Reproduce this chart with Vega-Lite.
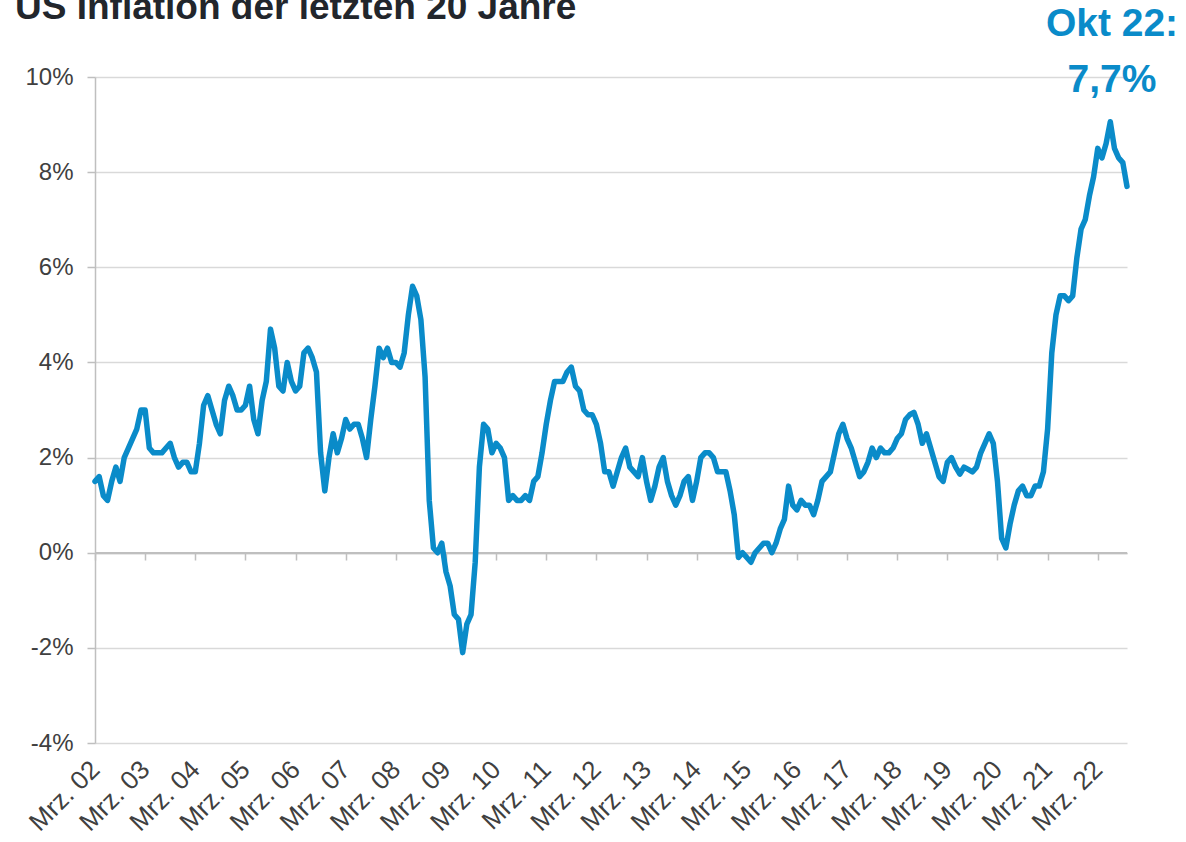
{
  "$schema": "https://vega.github.io/schema/vega-lite/v6.json",
  "autosize": "none",
  "width": 1032,
  "height": 666,
  "padding": {"left": 95, "top": 77, "right": 59, "bottom": 99},
  "background": "white",
  "config": {
    "font": "Liberation Sans",
    "view": {"stroke": null},
    "axis": {"labelFont": "Liberation Sans", "labelFontSize": 24, "labelColor": "#404040"}
  },
  "title": {
    "text": "US Inflation der letzten 20 Jahre",
    "fontSize": 37,
    "fontWeight": "bold",
    "color": "#22262c",
    "anchor": "start",
    "frame": "group",
    "baseline": "alphabetic",
    "dx": -80,
    "offset": -51
  },
  "data": {
    "values": [
      {"m":"2002-03","v":1.5},{"m":"2002-04","v":1.6},{"m":"2002-05","v":1.2},{"m":"2002-06","v":1.1},{"m":"2002-07","v":1.5},{"m":"2002-08","v":1.8},{"m":"2002-09","v":1.5},{"m":"2002-10","v":2.0},{"m":"2002-11","v":2.2},{"m":"2002-12","v":2.4},
      {"m":"2003-01","v":2.6},{"m":"2003-02","v":3.0},{"m":"2003-03","v":3.0},{"m":"2003-04","v":2.2},{"m":"2003-05","v":2.1},{"m":"2003-06","v":2.1},{"m":"2003-07","v":2.1},{"m":"2003-08","v":2.2},{"m":"2003-09","v":2.3},{"m":"2003-10","v":2.0},{"m":"2003-11","v":1.8},{"m":"2003-12","v":1.9},
      {"m":"2004-01","v":1.9},{"m":"2004-02","v":1.7},{"m":"2004-03","v":1.7},{"m":"2004-04","v":2.3},{"m":"2004-05","v":3.1},{"m":"2004-06","v":3.3},{"m":"2004-07","v":3.0},{"m":"2004-08","v":2.7},{"m":"2004-09","v":2.5},{"m":"2004-10","v":3.2},{"m":"2004-11","v":3.5},{"m":"2004-12","v":3.3},
      {"m":"2005-01","v":3.0},{"m":"2005-02","v":3.0},{"m":"2005-03","v":3.1},{"m":"2005-04","v":3.5},{"m":"2005-05","v":2.8},{"m":"2005-06","v":2.5},{"m":"2005-07","v":3.2},{"m":"2005-08","v":3.6},{"m":"2005-09","v":4.7},{"m":"2005-10","v":4.3},{"m":"2005-11","v":3.5},{"m":"2005-12","v":3.4},
      {"m":"2006-01","v":4.0},{"m":"2006-02","v":3.6},{"m":"2006-03","v":3.4},{"m":"2006-04","v":3.5},{"m":"2006-05","v":4.2},{"m":"2006-06","v":4.3},{"m":"2006-07","v":4.1},{"m":"2006-08","v":3.8},{"m":"2006-09","v":2.1},{"m":"2006-10","v":1.3},{"m":"2006-11","v":2.0},{"m":"2006-12","v":2.5},
      {"m":"2007-01","v":2.1},{"m":"2007-02","v":2.4},{"m":"2007-03","v":2.8},{"m":"2007-04","v":2.6},{"m":"2007-05","v":2.7},{"m":"2007-06","v":2.7},{"m":"2007-07","v":2.4},{"m":"2007-08","v":2.0},{"m":"2007-09","v":2.8},{"m":"2007-10","v":3.5},{"m":"2007-11","v":4.3},{"m":"2007-12","v":4.1},
      {"m":"2008-01","v":4.3},{"m":"2008-02","v":4.0},{"m":"2008-03","v":4.0},{"m":"2008-04","v":3.9},{"m":"2008-05","v":4.2},{"m":"2008-06","v":5.0},{"m":"2008-07","v":5.6},{"m":"2008-08","v":5.4},{"m":"2008-09","v":4.9},{"m":"2008-10","v":3.7},{"m":"2008-11","v":1.1},{"m":"2008-12","v":0.1},
      {"m":"2009-01","v":0.0},{"m":"2009-02","v":0.2},{"m":"2009-03","v":-0.4},{"m":"2009-04","v":-0.7},{"m":"2009-05","v":-1.3},{"m":"2009-06","v":-1.4},{"m":"2009-07","v":-2.1},{"m":"2009-08","v":-1.5},{"m":"2009-09","v":-1.3},{"m":"2009-10","v":-0.2},{"m":"2009-11","v":1.8},{"m":"2009-12","v":2.7},
      {"m":"2010-01","v":2.6},{"m":"2010-02","v":2.1},{"m":"2010-03","v":2.3},{"m":"2010-04","v":2.2},{"m":"2010-05","v":2.0},{"m":"2010-06","v":1.1},{"m":"2010-07","v":1.2},{"m":"2010-08","v":1.1},{"m":"2010-09","v":1.1},{"m":"2010-10","v":1.2},{"m":"2010-11","v":1.1},{"m":"2010-12","v":1.5},
      {"m":"2011-01","v":1.6},{"m":"2011-02","v":2.1},{"m":"2011-03","v":2.7},{"m":"2011-04","v":3.2},{"m":"2011-05","v":3.6},{"m":"2011-06","v":3.6},{"m":"2011-07","v":3.6},{"m":"2011-08","v":3.8},{"m":"2011-09","v":3.9},{"m":"2011-10","v":3.5},{"m":"2011-11","v":3.4},{"m":"2011-12","v":3.0},
      {"m":"2012-01","v":2.9},{"m":"2012-02","v":2.9},{"m":"2012-03","v":2.7},{"m":"2012-04","v":2.3},{"m":"2012-05","v":1.7},{"m":"2012-06","v":1.7},{"m":"2012-07","v":1.4},{"m":"2012-08","v":1.7},{"m":"2012-09","v":2.0},{"m":"2012-10","v":2.2},{"m":"2012-11","v":1.8},{"m":"2012-12","v":1.7},
      {"m":"2013-01","v":1.6},{"m":"2013-02","v":2.0},{"m":"2013-03","v":1.5},{"m":"2013-04","v":1.1},{"m":"2013-05","v":1.4},{"m":"2013-06","v":1.8},{"m":"2013-07","v":2.0},{"m":"2013-08","v":1.5},{"m":"2013-09","v":1.2},{"m":"2013-10","v":1.0},{"m":"2013-11","v":1.2},{"m":"2013-12","v":1.5},
      {"m":"2014-01","v":1.6},{"m":"2014-02","v":1.1},{"m":"2014-03","v":1.5},{"m":"2014-04","v":2.0},{"m":"2014-05","v":2.1},{"m":"2014-06","v":2.1},{"m":"2014-07","v":2.0},{"m":"2014-08","v":1.7},{"m":"2014-09","v":1.7},{"m":"2014-10","v":1.7},{"m":"2014-11","v":1.3},{"m":"2014-12","v":0.8},
      {"m":"2015-01","v":-0.1},{"m":"2015-02","v":0.0},{"m":"2015-03","v":-0.1},{"m":"2015-04","v":-0.2},{"m":"2015-05","v":0.0},{"m":"2015-06","v":0.1},{"m":"2015-07","v":0.2},{"m":"2015-08","v":0.2},{"m":"2015-09","v":0.0},{"m":"2015-10","v":0.2},{"m":"2015-11","v":0.5},{"m":"2015-12","v":0.7},
      {"m":"2016-01","v":1.4},{"m":"2016-02","v":1.0},{"m":"2016-03","v":0.9},{"m":"2016-04","v":1.1},{"m":"2016-05","v":1.0},{"m":"2016-06","v":1.0},{"m":"2016-07","v":0.8},{"m":"2016-08","v":1.1},{"m":"2016-09","v":1.5},{"m":"2016-10","v":1.6},{"m":"2016-11","v":1.7},{"m":"2016-12","v":2.1},
      {"m":"2017-01","v":2.5},{"m":"2017-02","v":2.7},{"m":"2017-03","v":2.4},{"m":"2017-04","v":2.2},{"m":"2017-05","v":1.9},{"m":"2017-06","v":1.6},{"m":"2017-07","v":1.7},{"m":"2017-08","v":1.9},{"m":"2017-09","v":2.2},{"m":"2017-10","v":2.0},{"m":"2017-11","v":2.2},{"m":"2017-12","v":2.1},
      {"m":"2018-01","v":2.1},{"m":"2018-02","v":2.2},{"m":"2018-03","v":2.4},{"m":"2018-04","v":2.5},{"m":"2018-05","v":2.8},{"m":"2018-06","v":2.9},{"m":"2018-07","v":2.95},{"m":"2018-08","v":2.7},{"m":"2018-09","v":2.3},{"m":"2018-10","v":2.5},{"m":"2018-11","v":2.2},{"m":"2018-12","v":1.9},
      {"m":"2019-01","v":1.6},{"m":"2019-02","v":1.5},{"m":"2019-03","v":1.9},{"m":"2019-04","v":2.0},{"m":"2019-05","v":1.8},{"m":"2019-06","v":1.65},{"m":"2019-07","v":1.8},{"m":"2019-08","v":1.75},{"m":"2019-09","v":1.7},{"m":"2019-10","v":1.8},{"m":"2019-11","v":2.1},{"m":"2019-12","v":2.3},
      {"m":"2020-01","v":2.5},{"m":"2020-02","v":2.3},{"m":"2020-03","v":1.5},{"m":"2020-04","v":0.3},{"m":"2020-05","v":0.1},{"m":"2020-06","v":0.6},{"m":"2020-07","v":1.0},{"m":"2020-08","v":1.3},{"m":"2020-09","v":1.4},{"m":"2020-10","v":1.2},{"m":"2020-11","v":1.2},{"m":"2020-12","v":1.4},
      {"m":"2021-01","v":1.4},{"m":"2021-02","v":1.7},{"m":"2021-03","v":2.6},{"m":"2021-04","v":4.2},{"m":"2021-05","v":5.0},{"m":"2021-06","v":5.4},{"m":"2021-07","v":5.4},{"m":"2021-08","v":5.3},{"m":"2021-09","v":5.4},{"m":"2021-10","v":6.2},{"m":"2021-11","v":6.8},{"m":"2021-12","v":7.0},
      {"m":"2022-01","v":7.5},{"m":"2022-02","v":7.9},{"m":"2022-03","v":8.5},{"m":"2022-04","v":8.3},{"m":"2022-05","v":8.6},{"m":"2022-06","v":9.06},{"m":"2022-07","v":8.5},{"m":"2022-08","v":8.3},{"m":"2022-09","v":8.2},{"m":"2022-10","v":7.7}
    ]
  },
  "layer": [
    {
      "mark": {"type": "line", "color": "#bfbfbf", "strokeWidth": 1.5},
      "encoding": {
        "x": {
          "field": "m", "type": "ordinal",
          "scale": {"type": "point", "padding": 0},
          "axis": {
            "orient": "bottom",
            "title": null, "labels": false, "ticks": true, "tickSize": 7, "tickColor": "#bfbfbf", "tickWidth": 1.5,
            "domain": true, "domainColor": "#bfbfbf", "domainWidth": 1.5, "grid": false, "offset": -190,
            "values": ["2002-03","2003-03","2004-03","2005-03","2006-03","2007-03","2008-03","2009-03","2010-03","2011-03","2012-03","2013-03","2014-03","2015-03","2016-03","2017-03","2018-03","2019-03","2020-03","2021-03","2022-03"]
          }
        },
        "y": {
          "datum": 0, "type": "quantitative",
          "scale": {"domain": [-4, 10], "nice": false},
          "axis": {
            "title": null, "values": [-4, -2, 0, 2, 4, 6, 8, 10],
            "labelExpr": "datum.value + '%'",
            "grid": true, "gridColor": "#d9d9d9", "gridWidth": 1.5,
            "domain": true, "domainColor": "#bfbfbf", "domainWidth": 1.5,
            "ticks": true, "tickSize": 8, "tickColor": "#bfbfbf", "tickWidth": 1.5,
            "labelPadding": 14
          }
        }
      }
    },
    {
      "mark": {"type": "line", "color": "#0a8bc9", "strokeWidth": 5.5, "strokeJoin": "round", "strokeCap": "round"},
      "encoding": {
        "x": {
          "field": "m", "type": "ordinal",
          "axis": {
            "orient": "bottom",
            "title": null, "ticks": false, "domain": false, "grid": false,
            "labelAngle": -45, "labelAlign": "right", "labelBaseline": "middle", "labelPadding": 22, "labelFontSize": 26,
            "values": ["2002-03","2003-03","2004-03","2005-03","2006-03","2007-03","2008-03","2009-03","2010-03","2011-03","2012-03","2013-03","2014-03","2015-03","2016-03","2017-03","2018-03","2019-03","2020-03","2021-03","2022-03"],
            "labelExpr": "'Mrz. ' + slice(datum.value, 2, 4)"
          }
        },
        "y": {"field": "v", "type": "quantitative"}
      }
    },
    {
      "transform": [{"filter": "datum.m == '2022-10'"}],
      "mark": {"type": "text", "color": "#0a8bc9", "fontSize": 39, "fontWeight": "bold", "align": "center", "baseline": "alphabetic", "dx": -15, "dy": -41, "lineHeight": 56, "text": ["Okt 22:", "7,7%"]},
      "encoding": {
        "x": {"field": "m", "type": "ordinal", "axis": null},
        "y": {"datum": 10, "type": "quantitative"}
      }
    }
  ],
  "resolve": {"axis": {"x": "independent"}}
}
